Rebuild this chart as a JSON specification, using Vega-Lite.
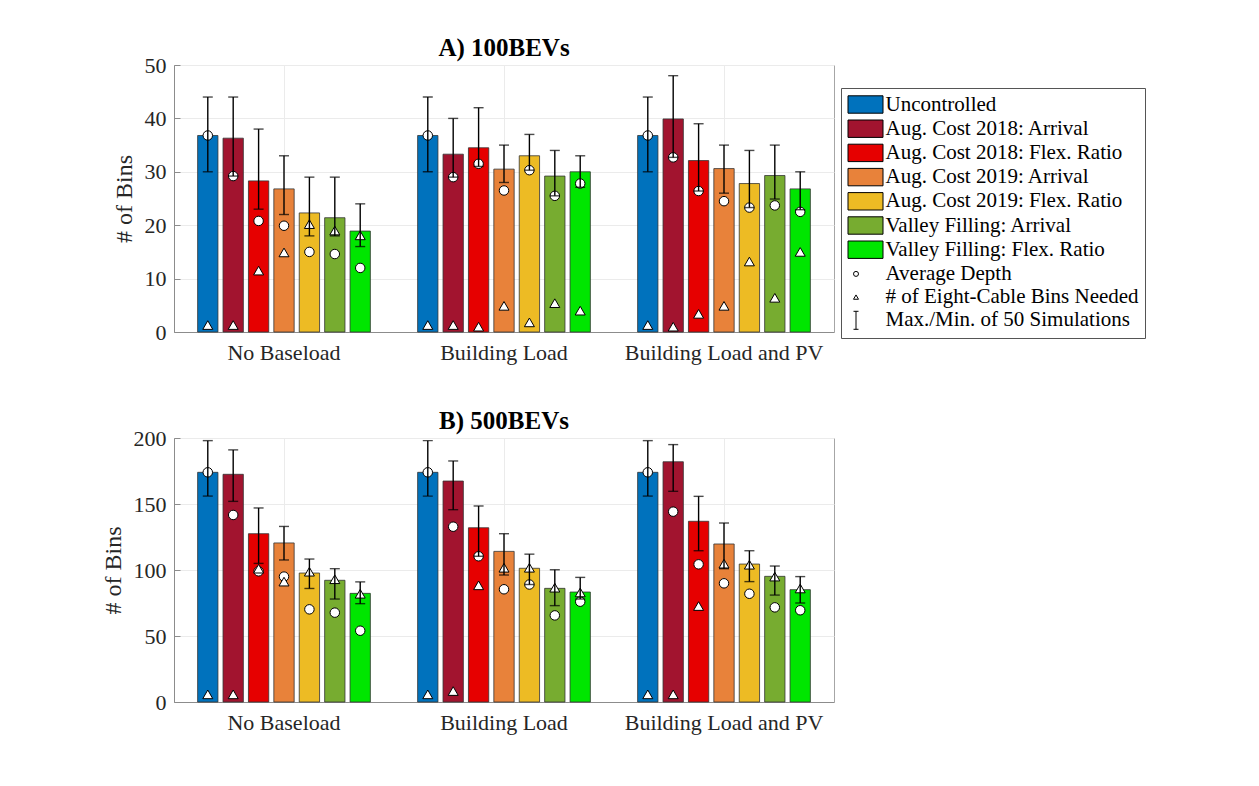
{
  "$schema": "https://vega.github.io/schema/vega-lite/v6.json",
  "padding": {"left": 100, "top": 35, "right": 5, "bottom": 5},
  "background": "white",
  "config": {
    "font": "Liberation Serif",
    "view": {"stroke": "#a6a6a6", "strokeWidth": 1},
    "axis": {
      "labelFont": "Liberation Serif",
      "labelFontSize": 22,
      "labelColor": "#262626",
      "labelLimit": 400,
      "titleFont": "Liberation Serif",
      "titleFontSize": 24,
      "titleFontWeight": "normal",
      "titleColor": "#262626",
      "domainColor": "#8c8c8c",
      "tickColor": "#8c8c8c",
      "gridColor": "#ebebeb",
      "tickSize": -6
    },
    "title": {"font": "Liberation Serif", "fontSize": 25, "fontWeight": "bold", "color": "black", "offset": -7, "frame": "group"},
    "concat": {"spacing": 44}
  },
  "datasets": {
    "a": [
      {"load": "No Baseload", "method": "Uncontrolled", "bins": 36.8, "depth": 36.8, "eight": 1.3, "max": 44, "min": 30},
      {"load": "No Baseload", "method": "Aug. Cost 2018: Arrival", "bins": 36.3, "depth": 29.2, "eight": 1.3, "max": 44, "min": 29.2},
      {"load": "No Baseload", "method": "Aug. Cost 2018: Flex. Ratio", "bins": 28.3, "depth": 20.8, "eight": 11.5, "max": 38, "min": 23},
      {"load": "No Baseload", "method": "Aug. Cost 2019: Arrival", "bins": 26.8, "depth": 19.9, "eight": 14.9, "max": 33, "min": 22},
      {"load": "No Baseload", "method": "Aug. Cost 2019: Flex. Ratio", "bins": 22.3, "depth": 15.0, "eight": 20.2, "max": 29, "min": 18},
      {"load": "No Baseload", "method": "Valley Filling: Arrival", "bins": 21.4, "depth": 14.6, "eight": 19.0, "max": 29, "min": 18},
      {"load": "No Baseload", "method": "Valley Filling: Flex. Ratio", "bins": 18.9, "depth": 12.0, "eight": 18.1, "max": 24, "min": 16},
      {"load": "Building Load", "method": "Uncontrolled", "bins": 36.8, "depth": 36.8, "eight": 1.3, "max": 44, "min": 30},
      {"load": "Building Load", "method": "Aug. Cost 2018: Arrival", "bins": 33.3, "depth": 29.0, "eight": 1.3, "max": 40, "min": 29},
      {"load": "Building Load", "method": "Aug. Cost 2018: Flex. Ratio", "bins": 34.5, "depth": 31.5, "eight": 1.0, "max": 42, "min": 31},
      {"load": "Building Load", "method": "Aug. Cost 2019: Arrival", "bins": 30.5, "depth": 26.5, "eight": 4.9, "max": 35, "min": 28},
      {"load": "Building Load", "method": "Aug. Cost 2019: Flex. Ratio", "bins": 33.0, "depth": 30.3, "eight": 1.8, "max": 37, "min": 30.3},
      {"load": "Building Load", "method": "Valley Filling: Arrival", "bins": 29.2, "depth": 25.5, "eight": 5.4, "max": 34, "min": 25.5},
      {"load": "Building Load", "method": "Valley Filling: Flex. Ratio", "bins": 30.0, "depth": 27.8, "eight": 4.0, "max": 33, "min": 27.1},
      {"load": "Building Load and PV", "method": "Uncontrolled", "bins": 36.8, "depth": 36.8, "eight": 1.3, "max": 44, "min": 30},
      {"load": "Building Load and PV", "method": "Aug. Cost 2018: Arrival", "bins": 39.9, "depth": 32.7, "eight": 1.0, "max": 48, "min": 32.7},
      {"load": "Building Load and PV", "method": "Aug. Cost 2018: Flex. Ratio", "bins": 32.1, "depth": 26.4, "eight": 3.4, "max": 39, "min": 26.4},
      {"load": "Building Load and PV", "method": "Aug. Cost 2019: Arrival", "bins": 30.6, "depth": 24.5, "eight": 4.9, "max": 35, "min": 26},
      {"load": "Building Load and PV", "method": "Aug. Cost 2019: Flex. Ratio", "bins": 27.8, "depth": 23.3, "eight": 13.2, "max": 34, "min": 23.3},
      {"load": "Building Load and PV", "method": "Valley Filling: Arrival", "bins": 29.3, "depth": 23.7, "eight": 6.4, "max": 35, "min": 24.9},
      {"load": "Building Load and PV", "method": "Valley Filling: Flex. Ratio", "bins": 26.8, "depth": 22.5, "eight": 15.0, "max": 30, "min": 22.9}
    ],
    "b": [
      {"load": "No Baseload", "method": "Uncontrolled", "bins": 174, "depth": 174, "eight": 5.8, "max": 198, "min": 156},
      {"load": "No Baseload", "method": "Aug. Cost 2018: Arrival", "bins": 172.5, "depth": 141.7, "eight": 5.8, "max": 191, "min": 152},
      {"load": "No Baseload", "method": "Aug. Cost 2018: Flex. Ratio", "bins": 127.5, "depth": 99, "eight": 101, "max": 147, "min": 105},
      {"load": "No Baseload", "method": "Aug. Cost 2019: Arrival", "bins": 120.5, "depth": 95, "eight": 91.2, "max": 133, "min": 107.6},
      {"load": "No Baseload", "method": "Aug. Cost 2019: Flex. Ratio", "bins": 97.7, "depth": 70.2, "eight": 98.7, "max": 108.3, "min": 86},
      {"load": "No Baseload", "method": "Valley Filling: Arrival", "bins": 92.2, "depth": 67.7, "eight": 93, "max": 101, "min": 78},
      {"load": "No Baseload", "method": "Valley Filling: Flex. Ratio", "bins": 82.3, "depth": 54, "eight": 82, "max": 91, "min": 74.5},
      {"load": "Building Load", "method": "Uncontrolled", "bins": 174, "depth": 174, "eight": 5.8, "max": 198, "min": 156},
      {"load": "Building Load", "method": "Aug. Cost 2018: Arrival", "bins": 167.4, "depth": 132.8, "eight": 8.3, "max": 182.6, "min": 145.7},
      {"load": "Building Load", "method": "Aug. Cost 2018: Flex. Ratio", "bins": 132, "depth": 110.4, "eight": 88.4, "max": 148.5, "min": 110.4},
      {"load": "Building Load", "method": "Aug. Cost 2019: Arrival", "bins": 114.1, "depth": 85.4, "eight": 101.7, "max": 127.5, "min": 96.2},
      {"load": "Building Load", "method": "Aug. Cost 2019: Flex. Ratio", "bins": 101.3, "depth": 89, "eight": 101.7, "max": 112, "min": 89},
      {"load": "Building Load", "method": "Valley Filling: Arrival", "bins": 86.1, "depth": 65.6, "eight": 86.6, "max": 100.2, "min": 73},
      {"load": "Building Load", "method": "Valley Filling: Flex. Ratio", "bins": 83.3, "depth": 76, "eight": 83, "max": 94.4, "min": 78},
      {"load": "Building Load and PV", "method": "Uncontrolled", "bins": 174, "depth": 174, "eight": 5.8, "max": 198, "min": 156},
      {"load": "Building Load and PV", "method": "Aug. Cost 2018: Arrival", "bins": 182, "depth": 144.2, "eight": 5.8, "max": 195, "min": 159.6},
      {"load": "Building Load and PV", "method": "Aug. Cost 2018: Flex. Ratio", "bins": 136.9, "depth": 104.3, "eight": 72.7, "max": 155.8, "min": 114.6},
      {"load": "Building Load and PV", "method": "Aug. Cost 2019: Arrival", "bins": 119.7, "depth": 89.9, "eight": 104.8, "max": 135.6, "min": 101},
      {"load": "Building Load and PV", "method": "Aug. Cost 2019: Flex. Ratio", "bins": 104.5, "depth": 82, "eight": 104, "max": 114.6, "min": 91.2},
      {"load": "Building Load and PV", "method": "Valley Filling: Arrival", "bins": 95.2, "depth": 71.7, "eight": 95, "max": 103, "min": 81},
      {"load": "Building Load and PV", "method": "Valley Filling: Flex. Ratio", "bins": 85.1, "depth": 69.5, "eight": 86, "max": 95, "min": 75}
    ]
  },
  "resolve": {"scale": {"fill": "independent", "shape": "independent", "y": "independent"}},
  "vconcat": [
    {
      "title": {"text": "A) 100BEVs"},
      "width": 660,
      "height": 267,
      "data": {"name": "a"},
      "encoding": {
        "x": {
          "field": "load", "type": "nominal", "title": null,
          "scale": {"domain": ["No Baseload", "Building Load", "Building Load and PV"], "paddingInner": 0, "paddingOuter": 0},
          "axis": {"labelAngle": 0, "grid": true, "bandPosition": 0.5, "labelPadding": 16}
        },
        "xOffset": {
          "field": "method", "type": "nominal",
          "scale": {"domain": ["Uncontrolled", "Aug. Cost 2018: Arrival", "Aug. Cost 2018: Flex. Ratio", "Aug. Cost 2019: Arrival", "Aug. Cost 2019: Flex. Ratio", "Valley Filling: Arrival", "Valley Filling: Flex. Ratio"], "paddingInner": 0.2, "paddingOuter": 0.93}
        }
      },
      "layer": [
        {
          "mark": {"type": "bar", "stroke": "#333333", "strokeWidth": 0.8},
          "encoding": {
            "y": {"field": "bins", "type": "quantitative", "title": "# of Bins",
                  "scale": {"domain": [0, 50]},
                  "axis": {"values": [0, 10, 20, 30, 40, 50], "grid": true, "labelPadding": 14, "titlePadding": 8}},
            "fill": {
              "field": "method", "type": "nominal",
              "scale": {
                "domain": ["Uncontrolled", "Aug. Cost 2018: Arrival", "Aug. Cost 2018: Flex. Ratio", "Aug. Cost 2019: Arrival", "Aug. Cost 2019: Flex. Ratio", "Valley Filling: Arrival", "Valley Filling: Flex. Ratio", "Average Depth", "# of Eight-Cable Bins Needed", "Max./Min. of 50 Simulations"],
                "range": ["#0072BD", "#A2142F", "#E60000", "#E8823A", "#EDBB24", "#77AC30", "#00E600", "white", "white", "black"]
              },
              "legend": {
                "title": null, "orient": "none", "legendX": 667, "legendY": 23,
                "strokeColor": "#555555", "fillColor": "white", "padding": 6,
                "symbolSize": 25, "symbolStrokeWidth": 1, "symbolStrokeColor": "#333333", "symbolOffset": -1.5,
                "labelOffset": 19, "labelFont": "Liberation Serif", "labelFontSize": 21, "labelColor": "black",
                "labelLimit": 400, "rowPadding": 1.2
              }
            }
          }
        },
        {
          "mark": {"type": "point", "filled": true, "size": 90, "stroke": "black", "strokeWidth": 1, "opacity": 1},
          "encoding": {
            "y": {"field": "depth", "type": "quantitative"},
            "fill": {"datum": "Average Depth", "type": "nominal"},
            "shape": {
              "datum": "Average Depth", "type": "nominal",
              "scale": {
                "domain": ["Uncontrolled", "Aug. Cost 2018: Arrival", "Aug. Cost 2018: Flex. Ratio", "Aug. Cost 2019: Arrival", "Aug. Cost 2019: Flex. Ratio", "Valley Filling: Arrival", "Valley Filling: Flex. Ratio", "Average Depth", "# of Eight-Cable Bins Needed", "Max./Min. of 50 Simulations"],
                "range": [
                  "M-3.2,-3.48L10.8,-3.48L10.8,3.48L-3.2,3.48Z",
                  "M-3.2,-3.48L10.8,-3.48L10.8,3.48L-3.2,3.48Z",
                  "M-3.2,-3.48L10.8,-3.48L10.8,3.48L-3.2,3.48Z",
                  "M-3.2,-3.48L10.8,-3.48L10.8,3.48L-3.2,3.48Z",
                  "M-3.2,-3.48L10.8,-3.48L10.8,3.48L-3.2,3.48Z",
                  "M-3.2,-3.48L10.8,-3.48L10.8,3.48L-3.2,3.48Z",
                  "M-3.2,-3.48L10.8,-3.48L10.8,3.48L-3.2,3.48Z",
                  "circle",
                  "triangle-up",
                  "M0,-3.6L0,3.6M-1,-3.6L1,-3.6M-1,3.6L1,3.6"
                ]
              },
              "legend": {
                "title": null, "orient": "none", "legendX": 667, "legendY": 23,
                "strokeColor": "#555555", "fillColor": "white", "padding": 6,
                "symbolSize": 25, "symbolStrokeWidth": 1, "symbolStrokeColor": "#333333", "symbolOffset": -1.5,
                "labelOffset": 19, "labelFont": "Liberation Serif", "labelFontSize": 21, "labelColor": "black",
                "labelLimit": 400, "rowPadding": 1.2
              }
            }
          }
        },
        {
          "mark": {"type": "point", "filled": true, "size": 100, "stroke": "black", "strokeWidth": 1, "opacity": 1},
          "encoding": {
            "y": {"field": "eight", "type": "quantitative"},
            "fill": {"datum": "# of Eight-Cable Bins Needed", "type": "nominal"},
            "shape": {"datum": "# of Eight-Cable Bins Needed", "type": "nominal"}
          }
        },
        {
          "mark": {"type": "rule", "color": "black", "strokeWidth": 1.4},
          "encoding": {"y": {"field": "min", "type": "quantitative"}, "y2": {"field": "max"}}
        },
        {
          "mark": {"type": "tick", "color": "black", "size": 10, "thickness": 1.4, "orient": "horizontal"},
          "encoding": {"y": {"field": "max", "type": "quantitative"}}
        },
        {
          "mark": {"type": "tick", "color": "black", "size": 10, "thickness": 1.4, "orient": "horizontal"},
          "encoding": {"y": {"field": "min", "type": "quantitative"}}
        }
      ]
    },
    {
      "title": {"text": "B) 500BEVs"},
      "width": 660,
      "height": 264,
      "data": {"name": "b"},
      "encoding": {
        "x": {
          "field": "load", "type": "nominal", "title": null,
          "scale": {"domain": ["No Baseload", "Building Load", "Building Load and PV"], "paddingInner": 0, "paddingOuter": 0},
          "axis": {"labelAngle": 0, "grid": true, "bandPosition": 0.5, "labelPadding": 16}
        },
        "xOffset": {
          "field": "method", "type": "nominal",
          "scale": {"domain": ["Uncontrolled", "Aug. Cost 2018: Arrival", "Aug. Cost 2018: Flex. Ratio", "Aug. Cost 2019: Arrival", "Aug. Cost 2019: Flex. Ratio", "Valley Filling: Arrival", "Valley Filling: Flex. Ratio"], "paddingInner": 0.2, "paddingOuter": 0.93}
        }
      },
      "layer": [
        {
          "mark": {"type": "bar", "stroke": "#333333", "strokeWidth": 0.8},
          "encoding": {
            "y": {"field": "bins", "type": "quantitative", "title": "# of Bins",
                  "scale": {"domain": [0, 200]},
                  "axis": {"values": [0, 50, 100, 150, 200], "grid": true, "labelPadding": 14, "titlePadding": 8}},
            "fill": {
              "field": "method", "type": "nominal",
              "scale": {
                "domain": ["Uncontrolled", "Aug. Cost 2018: Arrival", "Aug. Cost 2018: Flex. Ratio", "Aug. Cost 2019: Arrival", "Aug. Cost 2019: Flex. Ratio", "Valley Filling: Arrival", "Valley Filling: Flex. Ratio", "Average Depth", "# of Eight-Cable Bins Needed", "Max./Min. of 50 Simulations"],
                "range": ["#0072BD", "#A2142F", "#E60000", "#E8823A", "#EDBB24", "#77AC30", "#00E600", "white", "white", "black"]
              },
              "legend": null
            }
          }
        },
        {
          "mark": {"type": "point", "filled": true, "size": 90, "stroke": "black", "strokeWidth": 1, "opacity": 1, "shape": "circle"},
          "encoding": {
            "y": {"field": "depth", "type": "quantitative"},
            "fill": {"datum": "Average Depth", "type": "nominal", "legend": null}
          }
        },
        {
          "mark": {"type": "point", "filled": true, "size": 100, "stroke": "black", "strokeWidth": 1, "opacity": 1, "shape": "triangle-up"},
          "encoding": {
            "y": {"field": "eight", "type": "quantitative"},
            "fill": {"datum": "# of Eight-Cable Bins Needed", "type": "nominal", "legend": null}
          }
        },
        {
          "mark": {"type": "rule", "color": "black", "strokeWidth": 1.4},
          "encoding": {"y": {"field": "min", "type": "quantitative"}, "y2": {"field": "max"}}
        },
        {
          "mark": {"type": "tick", "color": "black", "size": 10, "thickness": 1.4, "orient": "horizontal"},
          "encoding": {"y": {"field": "max", "type": "quantitative"}}
        },
        {
          "mark": {"type": "tick", "color": "black", "size": 10, "thickness": 1.4, "orient": "horizontal"},
          "encoding": {"y": {"field": "min", "type": "quantitative"}}
        }
      ]
    }
  ]
}
